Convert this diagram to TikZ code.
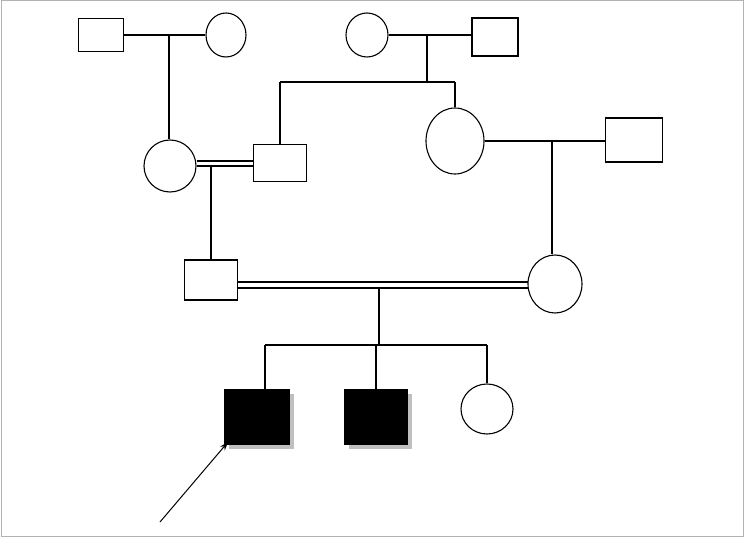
\documentclass[tikz,border=0pt]{standalone}
\usetikzlibrary{shapes.geometric,arrows.meta}
\begin{document}
\begin{tikzpicture}[x=1pt,y=-1pt,line width=1.1pt,
  male/.style={draw,rectangle,inner sep=0pt},
  female/.style={draw,ellipse,inner sep=0pt},
  aff/.style={draw,rectangle,inner sep=0pt,fill=black,line width=1.5pt}]
\useasboundingbox (0,0) rectangle (744,537);
\draw[gray!60,line width=1pt] (1,1) rectangle (743,536);
% generation 1
\node[male,minimum width=45pt,minimum height=33pt] (A) at (101,35) {};
\node[female,minimum width=40pt,minimum height=44pt] (B) at (226,35) {};
\node[female,minimum width=42pt,minimum height=44pt] (F) at (367,35) {};
\node[male,minimum width=46pt,minimum height=38pt] (G) at (495,37) {};
% generation 2
\node[female,minimum width=52pt,minimum height=52pt] (C) at (170,166) {};
\node[male,minimum width=53pt,minimum height=37pt] (D) at (280,163) {};
\node[female,minimum width=58pt,minimum height=66pt] (H) at (455,141) {};
\node[male,minimum width=57pt,minimum height=44pt] (I) at (634,140) {};
% generation 3
\node[male,minimum width=53pt,minimum height=40pt] (E) at (211,280) {};
\node[female,minimum width=54pt,minimum height=58pt] (J) at (555,284) {};
% generation 4
\fill[gray!50] (229,394) rectangle (294,449);
\fill[gray!50] (349,394) rectangle (412,449);
\node[aff,minimum width=64pt,minimum height=54pt] (K) at (257,417) {};
\node[aff,minimum width=62pt,minimum height=54pt] (L) at (376,417) {};
\node[female,minimum width=52pt,minimum height=50pt] (M) at (487,409) {};
% couple A-B
\draw (A.east) -- (B.west);
\coordinate (ab) at (169,35);
\draw (ab) -- (ab |- C.north);
% couple F-G
\draw (F.east) -- (G.west |- F.east);
\coordinate (fg) at (427,35);
\coordinate (fgs) at (427,82);
\draw (fg) -- (fgs);
\draw (D.north |- fgs) -- (H.north |- fgs);
\draw (D.north |- fgs) -- (D.north);
\draw (H.north |- fgs) -- (H.north);
% consanguineous C=D
\draw (C.east |- 0,161) -- (D.west |- 0,161);
\draw (C.east |- 0,166) -- (D.west |- 0,166);
\coordinate (cd) at (211,166);
\draw (cd) -- (E.north);
% H-I
\draw (H.east) -- (I.west |- H.east);
\coordinate (hi) at (552,141);
\draw (hi) -- (hi |- J.north);
% consanguineous E=J
\draw (E.east |- 0,282) -- ([xshift=1pt]J.west |- 0,282);
\draw (E.east |- 0,288) -- ([xshift=1pt]J.west |- 0,288);
\coordinate (ej) at (379,288);
\coordinate (sib) at (379,345);
\draw (ej) -- (sib);
\coordinate (ks) at (265,345);
\draw (ks) -- (M.north |- sib);
\draw (ks) -- (ks |- K.north);
\draw (L.north |- sib) -- (L.north);
\draw (M.north |- sib) -- (M.north);
% proband arrow
\coordinate (arr) at (160,522);
\draw[-{Stealth[length=9pt,width=6pt]},line width=1pt] (arr) -- ([xshift=4pt,yshift=3pt]K.south west);
\end{tikzpicture}
\end{document}
